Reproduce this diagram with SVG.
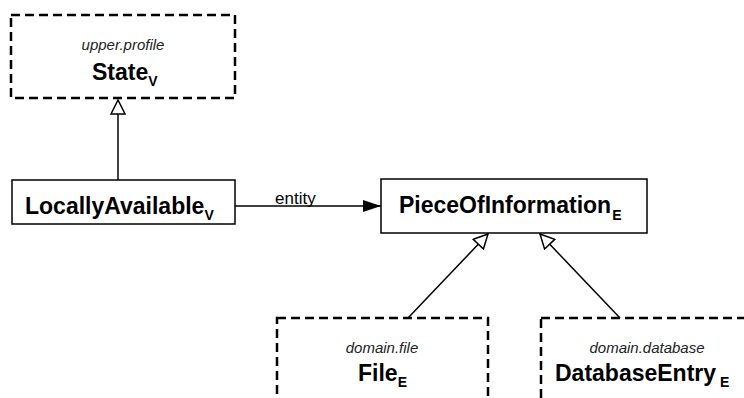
<svg xmlns="http://www.w3.org/2000/svg" width="744" height="398" viewBox="0 0 744 398">
<style>
.bg{fill:#fff}
.solid{fill:#fff;stroke:#000;stroke-width:1.5}
.dash{fill:#fff;stroke:#000;stroke-width:2.5;stroke-dasharray:9,5}
.pkg{font-family:"Liberation Sans",Arial,sans-serif;font-style:italic;font-size:15px;fill:#222;text-anchor:middle}
.name{font-family:"Liberation Sans",Arial,sans-serif;font-weight:bold;font-size:23px;fill:#000}
.sub{font-size:14px}
.lbl{font-family:"Liberation Sans",Arial,sans-serif;font-size:17px;fill:#000}
.line{stroke:#000;stroke-width:1.5;fill:none}
</style>
<defs>
<marker id="gen" viewBox="0 0 16 16" refX="15" refY="8" markerWidth="16" markerHeight="16" markerUnits="userSpaceOnUse" orient="auto">
<path d="M1,1 L15,8 L1,15 Z" fill="#fff" stroke="#000" stroke-width="1.5"/>
</marker>
<marker id="arr" viewBox="0 0 18 14" refX="18" refY="7" markerWidth="18" markerHeight="14" markerUnits="userSpaceOnUse" orient="auto">
<path d="M0,1 L18,7 L0,13 Z" fill="#000"/>
</marker>
</defs>
<rect class="bg" x="0" y="0" width="744" height="398"/>
<g id="connectors">
<line class="line" x1="118" y1="180" x2="118" y2="100" marker-end="url(#gen)"/>
<line class="line" x1="235" y1="206" x2="381" y2="206" marker-end="url(#arr)"/>
<text class="lbl" x="275" y="204">entity</text>
<line class="line" x1="408" y1="318" x2="488" y2="234" marker-end="url(#gen)"/>
<line class="line" x1="620" y1="318" x2="540" y2="234" marker-end="url(#gen)"/>
</g>
<g id="State">
<rect class="dash" x="11" y="15" width="224" height="83"/>
<text class="pkg" x="123" y="50">upper.profile</text>
<text class="name" x="92" y="80">State<tspan class="sub" dy="6">V</tspan></text>
</g>
<g id="LocallyAvailable">
<rect class="solid" x="12" y="180" width="223" height="44"/>
<text class="name" x="25" y="214">LocallyAvailable<tspan class="sub" dy="6">V</tspan></text>
</g>
<g id="PieceOfInformation">
<rect class="solid" x="381" y="179" width="266" height="54"/>
<text class="name" x="399" y="213">PieceOfInformation<tspan class="sub" dx="1" dy="7">E</tspan></text>
</g>
<g id="File">
<rect class="dash" x="277" y="318" width="211" height="100"/>
<text class="pkg" x="382" y="353">domain.file</text>
<text class="name" x="358" y="381">File<tspan class="sub" dy="6">E</tspan></text>
</g>
<g id="DatabaseEntry">
<rect class="dash" x="541" y="318" width="220" height="100"/>
<text class="pkg" x="647" y="353">domain.database</text>
<text class="name" x="555" y="381">DatabaseEntry<tspan class="sub" dx="4" dy="6">E</tspan></text>
</g>
</svg>
